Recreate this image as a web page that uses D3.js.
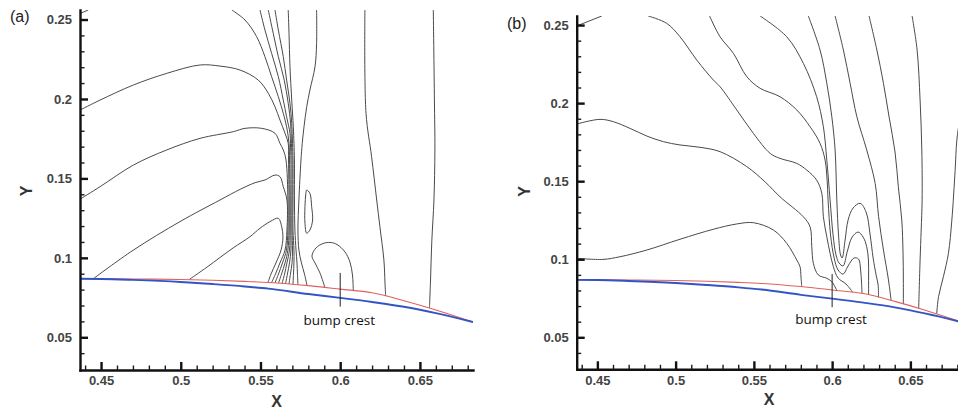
<!DOCTYPE html>
<html><head><meta charset="utf-8">
<script src="https://cdn.jsdelivr.net/npm/d3@7"></script>
<style>
html,body{margin:0;padding:0;background:#fff;}
svg{display:block;}
</style></head>
<body><svg id="chart" width="958" height="408"></svg>
<script>
// ---------- axis ticks ----------
const xMajorTicks = [0.45, 0.5, 0.55, 0.6, 0.65];
const xMajorLabels = ["0.45", "0.5", "0.55", "0.6", "0.65"];
const yMajorTicks = [0.05, 0.1, 0.15, 0.2, 0.25];
const yMajorLabels = ["0.05", "0.1", "0.15", "0.2", "0.25"];
const xMinorTicks = [0.44,0.46,0.47,0.48,0.49,0.51,0.52,0.53,0.54,0.56,0.57,0.58,0.59,0.61,0.62,0.63,0.64,0.66,0.67,0.68];
const yMinorTicks = [0.04,0.06,0.07,0.08,0.09,0.11,0.12,0.13,0.14,0.16,0.17,0.18,0.19,0.21,0.22,0.23,0.24];

// ---------- bump surface (blue) and red line ----------
const wallX    = [0.4368, 0.45,   0.47,   0.5,    0.52,   0.54,   0.555,  0.58,   0.6,    0.62,   0.64,   0.66,   0.6833];
const wallBlue = [0.0868, 0.0867, 0.0861, 0.0848, 0.0835, 0.0820, 0.0806, 0.0772, 0.0748, 0.0722, 0.0692, 0.0652, 0.0596];
const wallRed  = [0.0868, 0.0868, 0.0867, 0.0864, 0.0859, 0.0852, 0.0845, 0.0825, 0.0803, 0.0780, 0.0730, 0.0672, 0.0596];

// bump crest marker
const crestX = 0.6;
const crestYs = [0.0693, 0.0905];
const crestText = "bump crest";

// ---------- panel (a) contours: [x, y] ----------
const aTopLeft = [[0.4368,0.2538],[0.4420,0.2560]];
const aArcUpper = [[0.4368,0.1930],[0.4494,0.1993],[0.4703,0.2088],[0.4912,0.2161],[0.5121,0.2214],[0.5246,0.2207],[0.5372,0.2182],[0.5486,0.2119],[0.5549,0.2036],[0.5591,0.1951],[0.5622,0.1868],[0.5654,0.1784],[0.5674,0.1721],[0.5676,0.1616],[0.5679,0.1364],[0.5679,0.1175],[0.5672,0.1049],[0.5654,0.0968],[0.5632,0.0898],[0.5613,0.0840]];
const aArcMid = [[0.4368,0.1369],[0.4494,0.1448],[0.4703,0.1584],[0.4912,0.1679],[0.5121,0.1752],[0.5329,0.1794],[0.5403,0.1815],[0.5508,0.1815],[0.5591,0.1784],[0.5622,0.1721],[0.5643,0.1679],[0.5660,0.1616],[0.5672,0.1364],[0.5672,0.1175],[0.5663,0.1049],[0.5638,0.0968],[0.5613,0.0898],[0.5591,0.0842]];
const aArcLow = [[0.4452,0.0869],[0.4703,0.1049],[0.4995,0.1228],[0.5246,0.1364],[0.5372,0.1431],[0.5466,0.1473],[0.5528,0.1490],[0.5591,0.1521],[0.5622,0.1511],[0.5643,0.1448],[0.5666,0.1364],[0.5666,0.1175],[0.5654,0.1049],[0.5622,0.0968],[0.5594,0.0898],[0.5569,0.0843]];
const aWallArc = [[0.5054,0.0864],[0.5165,0.0942],[0.5328,0.1062],[0.5434,0.1133],[0.5497,0.1186],[0.5560,0.1228],[0.5612,0.1249],[0.5633,0.1196],[0.5641,0.1131],[0.5629,0.1049],[0.5597,0.0968],[0.5566,0.0898],[0.5547,0.0845]];
const aShock1 = [[0.5320,0.2560],[0.5403,0.2497],[0.5476,0.2392],[0.5528,0.2266],[0.5570,0.2140],[0.5612,0.2014],[0.5643,0.1910],[0.5664,0.1825],[0.5679,0.1721],[0.5682,0.1616],[0.5685,0.1364],[0.5685,0.1175],[0.5682,0.1049],[0.5666,0.0968],[0.5651,0.0898],[0.5635,0.0838]];
const aShock2 = [[0.5497,0.2560],[0.5528,0.2434],[0.5570,0.2287],[0.5612,0.2140],[0.5643,0.1993],[0.5664,0.1888],[0.5685,0.1784],[0.5688,0.1721],[0.5691,0.1616],[0.5691,0.1364],[0.5691,0.1175],[0.5691,0.1049],[0.5682,0.0968],[0.5669,0.0898],[0.5657,0.0836]];
const aShock3 = [[0.5549,0.2560],[0.5580,0.2413],[0.5612,0.2266],[0.5649,0.2119],[0.5674,0.1973],[0.5689,0.1847],[0.5694,0.1721],[0.5698,0.1616],[0.5698,0.1364],[0.5698,0.1175],[0.5701,0.1049],[0.5698,0.0968],[0.5688,0.0898],[0.5679,0.0835]];
const aShock4 = [[0.5591,0.2560],[0.5612,0.2434],[0.5643,0.2266],[0.5664,0.2119],[0.5685,0.1973],[0.5696,0.1847],[0.5701,0.1721],[0.5704,0.1616],[0.5704,0.1364],[0.5704,0.1175],[0.5710,0.1049],[0.5710,0.0968],[0.5707,0.0898],[0.5704,0.0833]];
const aShock5 = [[0.5674,0.2560],[0.5679,0.2413],[0.5685,0.2203],[0.5696,0.1993],[0.5706,0.1825],[0.5710,0.1721],[0.5713,0.1616],[0.5713,0.1364],[0.5716,0.1175],[0.5723,0.1049],[0.5729,0.0968],[0.5732,0.0898],[0.5735,0.0830]];
const aShock6 = [[0.5852,0.2560],[0.5852,0.2350],[0.5842,0.2203],[0.5810,0.2056],[0.5790,0.1951],[0.5773,0.1825],[0.5762,0.1721],[0.5754,0.1616],[0.5741,0.1364],[0.5735,0.1175],[0.5741,0.1049],[0.5757,0.0968],[0.5776,0.0898],[0.5792,0.0826]];
const aDome = [[0.5904,0.0814],[0.5873,0.0905],[0.5842,0.0968],[0.5823,0.1012],[0.5848,0.1062],[0.5892,0.1090],[0.5936,0.1097],[0.5980,0.1084],[0.6030,0.1037],[0.6061,0.0974],[0.6077,0.0892],[0.6082,0.0795]];
const aRight1 = [[0.6155,0.2560],[0.6162,0.1910],[0.6197,0.1637],[0.6229,0.1364],[0.6249,0.1196],[0.6274,0.0987],[0.6281,0.0842],[0.6285,0.0759]];
const aRight2 = [[0.6584,0.2560],[0.6591,0.1993],[0.6594,0.1679],[0.6588,0.1364],[0.6575,0.1112],[0.6566,0.0842],[0.6560,0.0684]];
const aIsland = [[0.5790,0.1427],[0.5810,0.1406],[0.5821,0.1322],[0.5827,0.1238],[0.5810,0.1175],[0.5790,0.1155],[0.5779,0.1217],[0.5779,0.1322],[0.5785,0.1406]];

// ---------- panel (b) contours: [x, y] ----------
const bTopLeft = [[0.4368,0.2494],[0.4528,0.2558]];
const bArcUpper = [[0.4368,0.1866],[0.4517,0.1896],[0.4602,0.1881],[0.4709,0.1838],[0.4816,0.1789],[0.4922,0.1753],[0.5028,0.1732],[0.5156,0.1717],[0.5284,0.1689],[0.5455,0.1593],[0.5572,0.1495],[0.5667,0.1400],[0.5816,0.1272],[0.5859,0.1208],[0.5870,0.1080],[0.5880,0.0974],[0.5912,0.0899],[0.5966,0.0878],[0.5998,0.0856],[0.6030,0.0800]];
const bArcLow = [[0.4368,0.1006],[0.4536,0.0999],[0.4645,0.1016],[0.4816,0.1059],[0.5028,0.1128],[0.5241,0.1192],[0.5391,0.1226],[0.5497,0.1234],[0.5625,0.1187],[0.5710,0.1102],[0.5774,0.0995],[0.5795,0.0952],[0.5801,0.0886],[0.5806,0.0824]];
const bLineB = [[0.4825,0.2558],[0.4943,0.2511],[0.5028,0.2425],[0.5135,0.2276],[0.5241,0.2148],[0.5284,0.2105],[0.5391,0.1956],[0.5497,0.1806],[0.5604,0.1678],[0.5667,0.1646],[0.5774,0.1614],[0.5838,0.1571],[0.5901,0.1507],[0.5934,0.1422],[0.5944,0.1272],[0.5966,0.1144],[0.5987,0.1038],[0.6008,0.0952],[0.6038,0.0880],[0.6089,0.0841],[0.6132,0.0788]];
const bLineA = [[0.5217,0.2558],[0.5284,0.2425],[0.5369,0.2319],[0.5455,0.2169],[0.5540,0.2095],[0.5667,0.2041],[0.5774,0.1956],[0.5859,0.1849],[0.5923,0.1742],[0.5955,0.1635],[0.5968,0.1507],[0.5974,0.1379],[0.5990,0.1155],[0.6013,0.1008],[0.6038,0.0931],[0.6070,0.0905],[0.6102,0.0957],[0.6140,0.1008],[0.6169,0.1001],[0.6182,0.0931],[0.6188,0.0848],[0.6191,0.0781]];
const bLineD = [[0.5540,0.2558],[0.5710,0.2425],[0.5816,0.2255],[0.5901,0.2041],[0.5944,0.1849],[0.5966,0.1635],[0.5987,0.1379],[0.6006,0.1155],[0.6025,0.1027],[0.6044,0.0976],[0.6070,0.0957],[0.6096,0.1046],[0.6128,0.1142],[0.6166,0.1174],[0.6198,0.1142],[0.6221,0.1080],[0.6232,0.0995],[0.6233,0.0880],[0.6233,0.0772]];
const bLineE = [[0.5848,0.2558],[0.5923,0.2340],[0.5966,0.2127],[0.5998,0.1913],[0.6019,0.1700],[0.6030,0.1379],[0.6041,0.1155],[0.6054,0.1027],[0.6064,0.1008],[0.6083,0.1123],[0.6102,0.1251],[0.6134,0.1328],[0.6179,0.1358],[0.6217,0.1302],[0.6243,0.1155],[0.6262,0.1008],[0.6281,0.0899],[0.6294,0.0835],[0.6296,0.0756]];
const bLineF = [[0.6019,0.2558],[0.6072,0.2340],[0.6115,0.2127],[0.6158,0.1913],[0.6221,0.1700],[0.6275,0.1486],[0.6297,0.1272],[0.6328,0.1059],[0.6360,0.0867],[0.6377,0.0736]];
const bLineG = [[0.6236,0.2558],[0.6286,0.2340],[0.6328,0.2127],[0.6364,0.1911],[0.6402,0.1687],[0.6423,0.1464],[0.6445,0.1251],[0.6453,0.1040],[0.6455,0.0867],[0.6455,0.0714]];
const bLineH = [[0.6511,0.2558],[0.6543,0.2340],[0.6562,0.2020],[0.6573,0.1700],[0.6575,0.1379],[0.6569,0.1187],[0.6562,0.0995],[0.6553,0.0686]];
const bLineI = [[0.6824,0.1956],[0.6797,0.1764],[0.6786,0.1571],[0.6765,0.1251],[0.6743,0.1038],[0.6711,0.0888],[0.6680,0.0760],[0.6668,0.0650]];

const contoursA = [aTopLeft, aArcUpper, aArcMid, aArcLow, aWallArc, aShock1, aShock2, aShock3, aShock4, aShock5, aShock6, aDome, aRight1, aRight2];
const loopsA = [aIsland];
const contoursB = [bTopLeft, bArcUpper, bArcLow, bLineB, bLineA, bLineD, bLineE, bLineF, bLineG, bLineH, bLineI];
const loopsB = [];

// ---------- layout ----------
const xDomain = [0.4368, 0.6833];
const panels = [
  {key:"a", x0:80, x1:473, y0:370, y1:10, yDomain:[0.0294, 0.256], tag:"(a)", tagX:10, tagY:21.5,
   yLabX:31.5, yLabY:191, xLabX:276.5, xLabY:406.5, contours:contoursA, loops:loopsA},
  {key:"b", x0:576.7, x1:962.5, y0:369.3, y1:16, yDomain:[0.0295, 0.2558], tag:"(b)", tagX:507, tagY:28.5,
   yLabX:530, yLabY:191.5, xLabX:769, xLabY:405, contours:contoursB, loops:loopsB}
];

const svg = d3.select("#chart");
const FONT = "'Liberation Sans', Arial, Helvetica, sans-serif";

panels.forEach(p => {
  const x = d3.scaleLinear().domain(xDomain).range([p.x0, p.x1]);
  const y = d3.scaleLinear().domain(p.yDomain).range([p.y0, p.y1]);
  const g = svg.append("g");

  g.append("clipPath").attr("id", "clip-" + p.key)
    .append("rect").attr("x", p.x0).attr("y", p.y1).attr("width", p.x1 - p.x0).attr("height", p.y0 - p.y1);

  const plot = g.append("g").attr("clip-path", "url(#clip-" + p.key + ")");

  const cLine = d3.line().x(d => x(d[0])).y(d => y(d[1])).curve(d3.curveCatmullRom.alpha(0.5));
  const cLoop = d3.line().x(d => x(d[0])).y(d => y(d[1])).curve(d3.curveCatmullRomClosed.alpha(0.5));

  plot.selectAll("path.contour").data(p.contours).join("path")
    .attr("class", "contour").attr("d", cLine)
    .attr("fill", "none").attr("stroke", "#4a4a4a").attr("stroke-width", 1);
  plot.selectAll("path.loop").data(p.loops).join("path")
    .attr("class", "loop").attr("d", cLoop)
    .attr("fill", "none").attr("stroke", "#4a4a4a").attr("stroke-width", 1);

  const wLine = d3.line().x((d, i) => x(wallX[i])).y(d => y(d)).curve(d3.curveMonotoneX);
  plot.append("path").attr("d", wLine(wallRed)).attr("fill", "none")
    .attr("stroke", "#e0605e").attr("stroke-width", 1.1);
  plot.append("path").attr("d", wLine(wallBlue)).attr("fill", "none")
    .attr("stroke", "#3354c4").attr("stroke-width", 1.9);

  // bump crest marker
  plot.append("line").attr("x1", x(crestX)).attr("x2", x(crestX))
    .attr("y1", y(crestYs[0])).attr("y2", y(crestYs[1]))
    .attr("stroke", "#222").attr("stroke-width", 1);
  g.append("text").attr("x", x(crestX) - 1).attr("y", p.y0 - 45)
    .attr("text-anchor", "middle").attr("font-family", "'Open Sans', 'Noto Sans', sans-serif")
    .attr("font-size", 13.5).attr("fill", "#111").text(crestText);

  // axes
  const axB = g.append("g").attr("transform", `translate(0,${p.y0})`)
    .call(d3.axisBottom(x).tickValues(xMajorTicks).tickFormat((d, i) => xMajorLabels[i])
      .tickSizeInner(-8).tickSizeOuter(0).tickPadding(6));
  const axBm = g.append("g").attr("transform", `translate(0,${p.y0})`)
    .call(d3.axisBottom(x).tickValues(xMinorTicks).tickFormat("").tickSizeInner(-4.5).tickSizeOuter(0));
  const axL = g.append("g").attr("transform", `translate(${p.x0},0)`)
    .call(d3.axisLeft(y).tickValues(yMajorTicks).tickFormat((d, i) => yMajorLabels[i])
      .tickSizeInner(-8).tickSizeOuter(0).tickPadding(8));
  const axLm = g.append("g").attr("transform", `translate(${p.x0},0)`)
    .call(d3.axisLeft(y).tickValues(yMinorTicks).tickFormat("").tickSizeInner(-4.5).tickSizeOuter(0));

  [axBm, axLm].forEach(a => {
    a.select(".domain").remove();
    a.selectAll(".tick line").attr("stroke", "#1a1a1a").attr("stroke-width", 1.4);
  });
  [axB, axL].forEach(a => {
    a.select(".domain").attr("stroke", "#111").attr("stroke-width", 2.4).attr("stroke-linecap", "square");
    a.selectAll(".tick line").attr("stroke", "#111").attr("stroke-width", 2.4);
    a.selectAll(".tick text").attr("font-family", FONT).attr("font-size", 13)
      .attr("font-weight", "bold").attr("fill", "#444");
  });

  // labels
  g.append("text").attr("x", p.tagX).attr("y", p.tagY).attr("font-family", FONT)
    .attr("font-size", 16).attr("fill", "#222").text(p.tag);
  g.append("text").attr("transform", `translate(${p.yLabX},${p.yLabY}) rotate(-90)`)
    .attr("text-anchor", "middle").attr("font-family", FONT).attr("font-size", 16)
    .attr("font-weight", "bold").attr("fill", "#333").text("Y");
  g.append("text").attr("x", p.xLabX).attr("y", p.xLabY).attr("text-anchor", "middle")
    .attr("font-family", FONT).attr("font-size", 16).attr("font-weight", "bold")
    .attr("fill", "#333").text("X");
});
</script>
</body></html>
